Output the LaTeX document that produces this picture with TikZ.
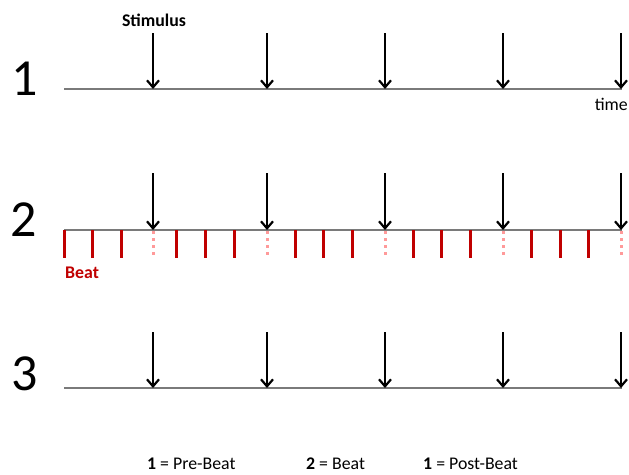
\documentclass[tikz,border=0pt]{standalone}
\usepackage{fontspec}
\setmainfont{Carlito}
\usetikzlibrary{arrows.meta}
\definecolor{beatred}{HTML}{C00000}
\definecolor{beatpink}{HTML}{FF9A9A}
\definecolor{axisgray}{HTML}{7A7A7A}
\begin{document}
\begin{tikzpicture}[x=1pt,y=-1pt,
  axis/.style={draw=axisgray,line width=1.2pt},
  stim/.style={draw=black,line width=2.2pt,-{Straight Barb[length=7pt,width=12pt,line width=2.2pt]}},
  beattick/.style={draw=beatred,line width=3pt},
  onbeat/.style={draw=beatpink,line width=3pt,dash pattern=on 3pt off 4pt},
  bignum/.style={font=\fontsize{52}{52}\selectfont,anchor=base west,inner sep=0pt},
  lbl/.style={font=\fontsize{17.8}{18}\selectfont,anchor=base,inner sep=0pt}]
\useasboundingbox (0,0) rectangle (629,474);
% rows: name/line y/arrow top y
\foreach \r/\ly/\ay in {1/89/33, 2/230/173, 3/388/332}{
  \coordinate (L\r s) at (64,\ly);
  \coordinate (L\r e) at (622,\ly);
  \draw[axis] (L\r s) -- (L\r e);
}
% beat ticks (row 2), drawn before arrows
\foreach \x in {64,92,121,176,205,234,295,323,352,413,441,470,531,560,588}{
  \coordinate (bt\x) at (\x,230);
  \coordinate (bb\x) at (\x,258);
  \draw[beattick] (bt\x) -- (bb\x);
}
\foreach \x in {153,267,385,503,621}{
  \coordinate (pt\x) at (\x,231);
  \coordinate (pb\x) at (\x,258);
  \draw[onbeat] (pt\x) -- (pb\x);
}
% stimulus arrows
\foreach \r/\ly/\ay in {1/89/33, 2/230/173, 3/388/332}{
  \foreach \x in {153,267,385,503,621}{
    \coordinate (a\r t\x) at (\x,\ay);
    \coordinate (a\r h\x) at (\x,\ly);
    \draw[stim] (a\r t\x) -- (a\r h\x);
  }
}
% numerals
\node[bignum] (n1) at (11,95) {1};
\node[bignum] (n2) at (10,236) {2};
\node[bignum] (n3) at (11,390) {3};
% labels
\node[lbl] (stimulus) at (154,26) {\textbf{Stimulus}};
\node[lbl,anchor=base east] (time) at (628,110) {time};
\node[lbl,anchor=base west,text=beatred] (beat) at (65,278) {\textbf{Beat}};
\node[lbl,anchor=base west] (leg1) at (147,469) {\textbf{1} = Pre-Beat};
\node[lbl,anchor=base west] (leg2) at (306,469) {\textbf{2} = Beat};
\node[lbl,anchor=base west] (leg3) at (423,469) {\textbf{1} = Post-Beat};
\end{tikzpicture}
\end{document}
